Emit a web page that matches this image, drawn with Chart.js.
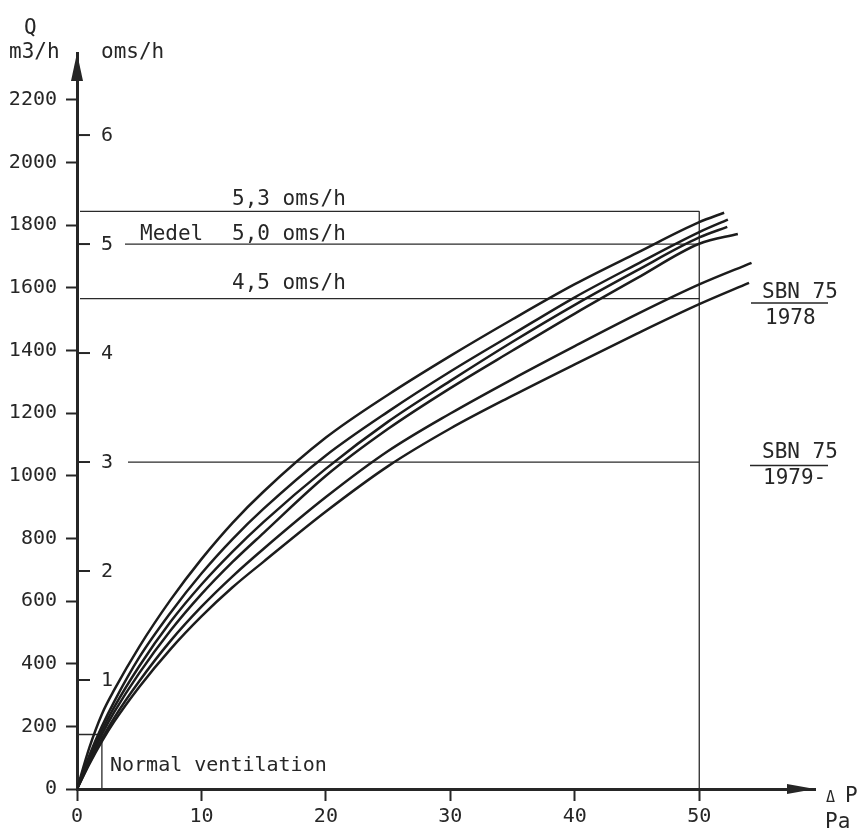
<!DOCTYPE html>
<html>
<head>
<meta charset="utf-8">
<script src="https://cdn.jsdelivr.net/npm/chart.js@4.4.0/dist/chart.umd.min.js"></script>
<style>
  html, body { margin: 0; padding: 0; background: #ffffff; }
  canvas { display: block; }
</style>
</head>
<body>
<canvas id="c" width="863" height="831"></canvas>
<script>
// ---- data ----
const pressure = [0, 1, 2, 3, 5, 7.5, 10, 12.5, 15, 20, 25, 30, 35, 40, 45, 50]; // ΔP, Pa
const curveA = [0, 133, 239, 317, 454, 603, 734, 850, 950, 1122, 1259, 1383, 1500, 1612, 1712, 1810];
const curveB = [0, 108, 200, 280, 420, 562, 688, 798, 895, 1065, 1205, 1333, 1452, 1570, 1676, 1778];
const curveC = [0, 100, 186, 262, 392, 533, 653, 758, 853, 1023, 1173, 1303, 1428, 1546, 1656, 1761];
const curveD = [0, 92, 174, 246, 370, 505, 622, 725, 818, 1000, 1150, 1280, 1400, 1518, 1631, 1741];
const curveE = [0, 84, 160, 228, 344, 472, 582, 679, 767, 932, 1079, 1199, 1309, 1414, 1516, 1611];
const curveF = [0, 80, 152, 216, 326, 446, 551, 644, 726, 886, 1031, 1151, 1256, 1356, 1454, 1548];
const curveEndPressure = [52.0, 52.3, 52.25, 53.1, 54.2, 54.0];
const curveEndFlow = [1840, 1818, 1795, 1772, 1680, 1616];

const flowTicks = [0, 200, 400, 600, 800, 1000, 1200, 1400, 1600, 1800, 2000, 2200]; // m3/h
const pressureTicks = [0, 10, 20, 30, 40, 50];
const omsTicks = [1, 2, 3, 4, 5, 6];           // air changes per hour
const roomVolume = 348;                          // m3/h per oms/h
const refOms = [5.3, 5.0, 4.5, 3.0];             // reference levels (oms/h)
const refLabels = ['5,3 oms/h', '5,0 oms/h', '4,5 oms/h', ''];
const normalVentOms = 0.5;
const normalVentPressure = 2;
const testPressure = 50;

const curves = [curveA, curveB, curveC, curveD, curveE, curveF];

const datasets = curves.map((q, i) => {
  const pts = pressure.map((p, k) => ({ x: p, y: q[k] }));
  pts.push({ x: curveEndPressure[i], y: curveEndFlow[i] });
  return {
    data: pts,
    borderColor: '#1c1c1c',
    borderWidth: 2.5,
    pointRadius: 0,
    fill: false,
    cubicInterpolationMode: 'monotone'
  };
});

const FONT = '"DejaVu Sans Mono", monospace';
const INK = '#262626';

const decor = {
  id: 'decor',
  beforeDraw(chart) {
    const ctx = chart.ctx;
    ctx.save();
    ctx.fillStyle = '#ffffff';
    ctx.fillRect(0, 0, chart.width, chart.height);
    ctx.restore();
  },
  beforeDatasetsDraw(chart) {
    const { ctx, chartArea: a, scales: { x, y } } = chart;
    ctx.save();
    ctx.strokeStyle = '#2a2a2a';
    ctx.lineWidth = 1.3;
    const x50 = x.getPixelForValue(testPressure);
    const starts = [a.left + 3, 125, a.left + 3, 128];
    refOms.forEach((o, i) => {
      const yy = y.getPixelForValue(o * roomVolume);
      ctx.beginPath();
      ctx.moveTo(starts[i], yy);
      ctx.lineTo(x50, yy);
      ctx.stroke();
    });
    ctx.beginPath();
    ctx.moveTo(x50, y.getPixelForValue(refOms[0] * roomVolume));
    ctx.lineTo(x50, a.bottom);
    ctx.stroke();
    const yNV = y.getPixelForValue(normalVentOms * roomVolume);
    const xNV = x.getPixelForValue(normalVentPressure);
    ctx.beginPath();
    ctx.moveTo(a.left, yNV);
    ctx.lineTo(xNV, yNV);
    ctx.lineTo(xNV, a.bottom);
    ctx.stroke();
    ctx.restore();
  },
  afterDraw(chart) {
    const { ctx, chartArea: a, scales: { x, y } } = chart;
    ctx.save();
    ctx.fillStyle = INK;
    ctx.strokeStyle = INK;
    ctx.beginPath();
    ctx.moveTo(a.left, a.top);
    ctx.lineTo(a.left - 6, a.top + 28);
    ctx.lineTo(a.left + 6, a.top + 28);
    ctx.closePath();
    ctx.fill();
    ctx.beginPath();
    ctx.moveTo(a.right, a.bottom);
    ctx.lineTo(a.right - 28, a.bottom - 5);
    ctx.lineTo(a.right - 28, a.bottom + 5);
    ctx.closePath();
    ctx.fill();

    ctx.lineWidth = 2;
    ctx.font = '20px ' + FONT;
    ctx.textAlign = 'left';
    ctx.textBaseline = 'middle';
    omsTicks.forEach(o => {
      const yy = y.getPixelForValue(o * roomVolume);
      ctx.beginPath();
      ctx.moveTo(a.left + 1, yy);
      ctx.lineTo(a.left + 13, yy);
      ctx.stroke();
      ctx.fillText(String(o), a.left + 24, yy + 1);
    });

    ctx.textBaseline = 'alphabetic';
    ctx.font = '21px ' + FONT;
    const offs = [6, 4, 10];
    refLabels.forEach((t, i) => {
      if (!t) return;
      const yy = y.getPixelForValue(refOms[i] * roomVolume);
      ctx.fillText(t, 232, yy - offs[i]);
    });
    ctx.fillText('Medel', 140, y.getPixelForValue(refOms[1] * roomVolume) - 4);
    ctx.font = '20px ' + FONT;
    ctx.fillText('Normal ventilation', 110, 771);

    ctx.font = '21px ' + FONT;
    ctx.fillText('Q', 24, 34);
    ctx.fillText('m3/h', 9, 58);
    ctx.fillText('oms/h', 101, 58);
    ctx.font = '15px ' + FONT;
    ctx.fillText('\u0394', 826, 802);
    ctx.font = '21px ' + FONT;
    ctx.fillText('P', 845, 802);
    ctx.fillText('Pa', 825, 828);

    ctx.font = '21px ' + FONT;
    ctx.fillText('SBN 75', 762, 298);
    ctx.fillText('1978', 765, 324);
    ctx.fillText('SBN 75', 762, 458);
    ctx.fillText('1979-', 763, 484);
    ctx.lineWidth = 1.6;
    ctx.beginPath();
    ctx.moveTo(751, 303); ctx.lineTo(828, 303);
    ctx.moveTo(750, 465.5); ctx.lineTo(828, 465.5);
    ctx.stroke();
    ctx.restore();
  }
};

new Chart(document.getElementById('c'), {
  type: 'line',
  data: { datasets },
  options: {
    responsive: false,
    animation: false,
    devicePixelRatio: 1,
    layout: { padding: { top: 53, right: 48, left: 0, bottom: 0 } },
    plugins: { legend: { display: false }, tooltip: { enabled: false } },
    scales: {
      x: {
        type: 'linear',
        min: 0,
        max: 59.3,
        afterFit: s => { s.height = 42; },
        afterBuildTicks: s => { s.ticks = pressureTicks.map(v => ({ value: v })); },
        ticks: { color: INK, font: { family: FONT, size: 20 }, padding: 4, maxRotation: 0, autoSkip: false,
                 callback: v => String(v) },
        grid: { drawOnChartArea: false, drawTicks: true, tickLength: 12, tickWidth: 2, tickColor: INK },
        border: { display: true, color: INK, width: 3 }
      },
      y: {
        type: 'linear',
        min: 0,
        max: 2350,
        afterFit: s => { s.width = 77; },
        afterBuildTicks: s => { s.ticks = flowTicks.map(v => ({ value: v })); },
        ticks: { color: INK, font: { family: FONT, size: 20 }, padding: 9, autoSkip: false,
                 callback: v => String(v) },
        grid: { drawOnChartArea: false, drawTicks: true, tickLength: 11, tickWidth: 2, tickColor: INK },
        border: { display: true, color: INK, width: 3 }
      }
    }
  },
  plugins: [decor]
});
</script>
</body>
</html>
